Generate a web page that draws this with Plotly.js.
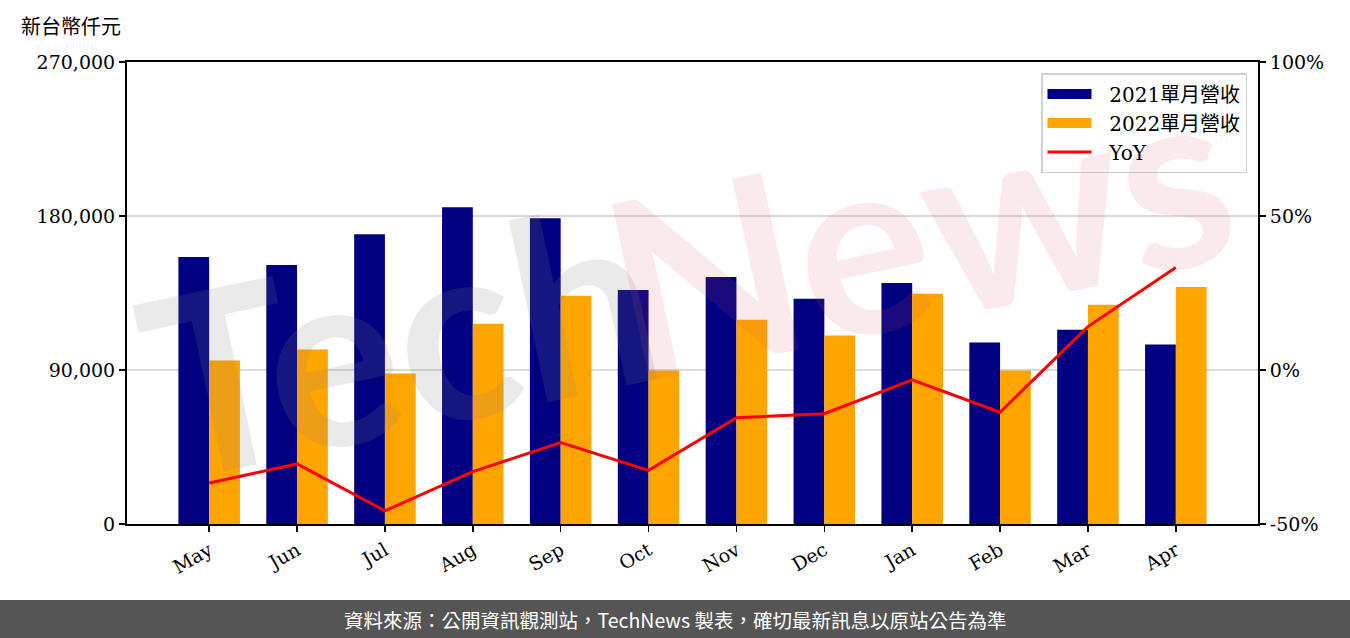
<!DOCTYPE html>
<html>
<head>
<meta charset="utf-8">
<script src="https://cdn.plot.ly/plotly-3.0.1.min.js"></script>
<style>
  html, body { margin: 0; padding: 0; background: #ffffff; }
  #chart { width: 1350px; height: 638px; }
</style>
</head>
<body>
<div id="chart"></div>
<script>
const months = ["May", "Jun", "Jul", "Aug", "Sep", "Oct", "Nov", "Dec", "Jan", "Feb", "Mar", "Apr"];
const revenue2021 = [156000, 151350, 169360, 185050, 178660, 136825, 144380, 131600, 140890, 106030, 113585, 104870];
const revenue2022 = [95575, 101965, 88020, 117070, 133340, 89765, 119395, 110100, 134500, 89765, 128110, 138570];
const yoy = [-36.7, -30.5, -45.7, -33.0, -23.6, -32.6, -15.5, -14.2, -3.2, -13.7, 14.1, 33.3];
const leftTicks = [0, 90000, 180000, 270000];
const rightTicks = [-50, 0, 50, 100];
const rightTickText = ["-50%", "0%", "50%", "100%"];
const seriesNames = ["2021單月營收", "2022單月營收", "YoY"];
const seriesColors = ["#000080", "#FFA500", "#FF0000"];

const serif = "'DejaVu Serif', 'Noto Sans CJK TC', serif";
const sans = "'Noto Sans CJK TC', 'Noto Sans', sans-serif";
const pad = "\u00a0\u00a0";

const traces = [
  { type: "bar", name: seriesNames[0], x: months, y: revenue2021, showlegend: false,
    marker: { color: seriesColors[0] }, hoverinfo: "skip" },
  { type: "bar", name: seriesNames[1], x: months, y: revenue2022, showlegend: false,
    marker: { color: seriesColors[1] }, hoverinfo: "skip" },
  { type: "scatter", mode: "lines", name: seriesNames[2], x: months, y: yoy, yaxis: "y2", showlegend: false,
    line: { color: seriesColors[2], width: 3 }, hoverinfo: "skip" },
  // legend entries (wide rectangular swatches like the reference)
  { type: "scatter", mode: "lines", name: pad + seriesNames[0], x: [null], y: [null],
    line: { color: seriesColors[0], width: 17 }, hoverinfo: "skip" },
  { type: "scatter", mode: "lines", name: pad + seriesNames[1], x: [null], y: [null],
    line: { color: seriesColors[1], width: 17 }, hoverinfo: "skip" },
  { type: "scatter", mode: "lines", name: pad + seriesNames[2], x: [null], y: [null], yaxis: "y2",
    line: { color: seriesColors[2], width: 3 }, hoverinfo: "skip" }
];

// pixel -> paper helpers (plot area: x 127..1258, y 62..524)
const L = 127, R = 1258, T = 62, B = 524;
const px = v => (v - L) / (R - L);
const py = v => (B - v) / (B - T);

const layout = {
  width: 1350, height: 638,
  margin: { l: L, r: 1350 - R, t: T, b: 638 - B, pad: 0 },
  paper_bgcolor: "#ffffff", plot_bgcolor: "#ffffff",
  font: { family: serif, size: 19, color: "#000000" },
  barmode: "group", bargap: 0.3, bargroupgap: 0,
  showlegend: true,
  legend: {
    x: px(1247), y: py(73), xanchor: "right", yanchor: "top",
    bgcolor: "rgba(255,255,255,0.85)", bordercolor: "#d0d0d0", borderwidth: 1.5,
    font: { family: serif, size: 20, color: "#000000" },
    itemwidth: 44, tracegroupgap: 0
  },
  xaxis: {
    type: "category", range: [-0.935, 11.935],
    showline: true, linecolor: "#000000", linewidth: 2, mirror: true,
    ticks: "outside", ticklen: 6, tickwidth: 1.5, tickcolor: "#000000",
    tickangle: -30, tickfont: { family: serif, size: 19 },
    showgrid: false, zeroline: false, fixedrange: true
  },
  yaxis: {
    range: [0, 270000], tickmode: "array", tickvals: leftTicks, tickformat: ",d",
    showline: true, linecolor: "#000000", linewidth: 2,
    ticks: "outside", ticklen: 6, tickwidth: 1.5, tickcolor: "#000000",
    tickfont: { family: serif, size: 19 },
    showgrid: true, gridcolor: "#d9d9d9", gridwidth: 1.5, zeroline: false, fixedrange: true
  },
  yaxis2: {
    overlaying: "y", side: "right", range: [-50, 100],
    tickmode: "array", tickvals: rightTicks, ticktext: rightTickText,
    showline: true, linecolor: "#000000", linewidth: 2,
    ticks: "outside", ticklen: 6, tickwidth: 1.5, tickcolor: "#000000",
    tickfont: { family: serif, size: 19 },
    showgrid: false, zeroline: false, fixedrange: true
  },
  shapes: [
    { type: "rect", xref: "paper", yref: "paper", layer: "below",
      x0: px(0), x1: px(1350), y0: py(638), y1: py(600),
      fillcolor: "#555555", line: { width: 0 } }
  ],
  annotations: [
    { xref: "paper", yref: "paper", x: px(19), y: py(27), xanchor: "left", yanchor: "middle",
      text: "新台幣仟元", showarrow: false, font: { family: serif, size: 20, color: "#000000" } },
    { xref: "paper", yref: "paper", x: px(675), y: py(619), xanchor: "center", yanchor: "middle",
      text: "資料來源：公開資訊觀測站，TechNews 製表，確切最新訊息以原站公告為準",
      showarrow: false, font: { family: sans, size: 19.5, color: "#ffffff" } },
    { xref: "paper", yref: "paper", x: px(398), y: py(335), xanchor: "center", yanchor: "middle",
      textangle: -12, showarrow: false, text: "Tech",
      font: { family: "'Lato', 'Noto Sans', sans-serif", size: 250, weight: 700, color: "rgba(128,128,128,0.17)" } },
    { xref: "paper", yref: "paper", x: px(918), y: py(225), xanchor: "center", yanchor: "middle",
      textangle: -12, showarrow: false, text: "News",
      font: { family: "'Lato', 'Noto Sans', sans-serif", size: 250, weight: 700, color: "rgba(215,80,90,0.12)" } }
  ]
};

Plotly.newPlot("chart", traces, layout, { displayModeBar: false, staticPlot: true });
</script>
</body>
</html>
